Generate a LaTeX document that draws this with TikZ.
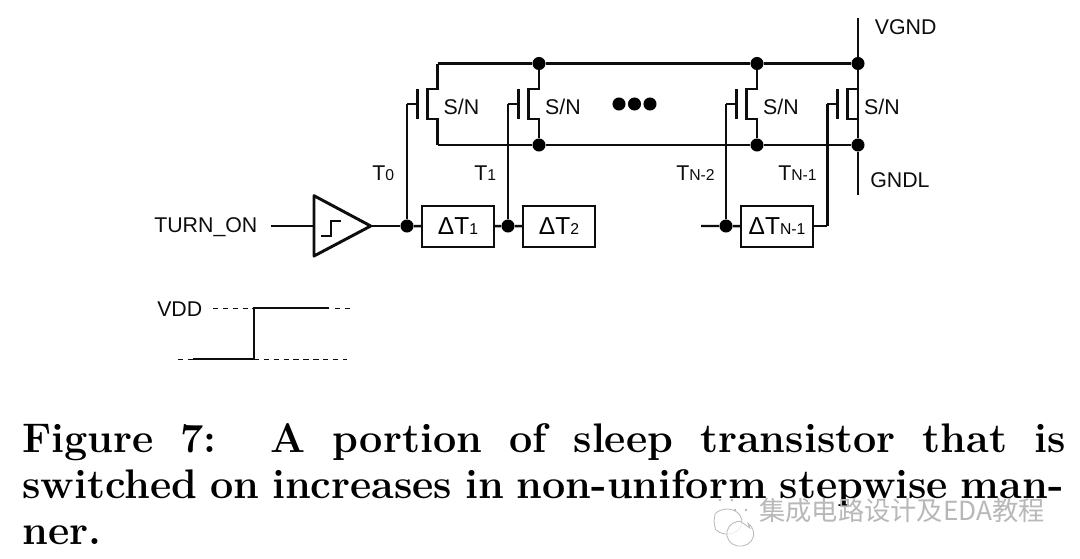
\documentclass[tikz,border=0pt]{standalone}
\usepackage{fontspec}
\setsansfont{Liberation Sans}
\newfontfamily\cjk{Noto Sans CJK SC}
\definecolor{ink}{gray}{0.05}
\definecolor{wm}{gray}{0.72}
\tikzset{
  wire/.style={draw=ink,line width=2.2pt,line join=miter},
  thin wire/.style={draw=ink,line width=1.8pt},
  hash/.style={draw=ink,line width=0.7pt,dash pattern=on 4pt off 3.4pt},
  dot/.style={circle,fill=black,draw=none,inner sep=0pt,minimum size=9.8pt},
  delaybox/.style={draw=ink,line width=1.8pt,fill=white,minimum height=30.75pt,anchor=center,inner sep=0pt},
  lab/.style={font=\sffamily\fontsize{16pt}{18pt}\selectfont,text=ink,inner sep=0pt},
  dlab/.style={font=\sffamily\fontsize{18.4pt}{20pt}\selectfont},
  captext/.style={font=\bfseries\fontsize{31pt}{32pt}\selectfont,text=black,inner sep=0pt,anchor=base west}
}
\newcommand{\smallsub}[1]{{\fontsize{11.8pt}{12pt}\selectfont #1}}
\begin{document}
\begin{tikzpicture}[x=0.75pt,y=-0.75pt]
\useasboundingbox (0,0) rectangle (1080,558);
\fill[white] (0,0) rectangle (1080,558);
% rails
\coordinate (r0t) at (437.5,63.5); \coordinate (r0b) at (437.5,145);
\node[dot] (n1t) at (539,63.5) {}; \node[dot] (n1b) at (539,145) {};
\node[dot] (n2t) at (757,63.5) {}; \node[dot] (n2b) at (757,145) {};
\node[dot] (n3t) at (858,63.5) {}; \node[dot] (n3b) at (858,145) {};
\coordinate (vgnd) at (858,18); \coordinate (gndl) at (858,195);
\draw[wire] (r0t) -- (n1t) -- (n2t) -- (n3t);
\draw[wire] (r0b) -- (n1b) -- (n2b) -- (n3b);
\draw[wire] (vgnd) -- (n3t) -- (n3b) -- (gndl);
% delay chain
\node[dot] (j0) at (407,226) {};
\node[dot] (j1) at (508,226) {};
\node[dot] (j2) at (726,226) {};
\node[delaybox,minimum width=54pt,dlab] (d1) at (458,226.5) {ΔT\smallsub{1}};
\node[delaybox,minimum width=54pt,dlab] (d2) at (559,226.5) {ΔT\smallsub{2}};
\node[delaybox,minimum width=54pt,dlab] (d3) at (777,226.5) {ΔT\smallsub{N-1}};
\coordinate (free) at (701,226);
\coordinate (g3low) at (827.3,226);
\draw[thin wire] (j0) -- (d1); \draw[thin wire] (d1) -- (j1) -- (d2);
\draw[thin wire] (free) -- (j2) -- (d3); \draw[thin wire] (d3.east|-g3low) -- (g3low);
% transistors
\foreach \i/\gx/\sx/\rt/\rb in {0/407/437.5/r0t/r0b,1/508/539/n1t/n1b,2/726/757/n2t/n2b,3/827.3/858/n3t/n3b}{
  \coordinate (gw\i) at (\gx,104);
  \coordinate (pt\i) at (\gx+10.5,89); \coordinate (pb\i) at (\gx+10.5,119);
  \coordinate (ct\i) at (\gx+20.5,89); \coordinate (cb\i) at (\gx+20.5,119);
  \coordinate (st\i) at (\sx,89); \coordinate (sb\i) at (\sx,119);
  \draw[wire] (\rt) -- (st\i) -- (ct\i) -- (cb\i) -- (sb\i) -- (\rb);
  \draw[wire] (pt\i) -- (pb\i);
  \draw[wire] (pt\i|-gw\i) -- (gw\i);
  \node[lab] (sn\i) at (\sx+24,107) {S/N};
}
\draw[wire] (gw0) -- (j0);
\draw[wire] (gw1) -- (j1);
\draw[wire] (gw2) -- (j2);
\draw[wire] (gw3) -- (g3low);
% ellipsis dots
\node[dot] (e1) at (619,104) {}; \node[dot] (e2) at (634.5,104) {}; \node[dot] (e3) at (650,104) {};
% buffer
\coordinate (ta) at (314,195.7); \coordinate (tb) at (314,256); \coordinate (tc) at (370.7,226);
\coordinate (in) at (270.7,226);
\draw[wire,line join=round] (ta) -- (tb) -- (tc) -- cycle;
\draw[wire] (in) -- (in-|ta);
\draw[wire] (tc) -- (j0);
\draw[thin wire] (321,236) -- (331,236) -- (331,220.7) -- (341,220.7);
% labels
\node[lab,anchor=west] (vg) at (874.5,27.5) {VGND};
\node[lab,anchor=west] (gl) at (870,180) {GNDL};
\node[lab,anchor=base west] (to) at (154,232) {TURN\_ON};
\node[lab,anchor=west] (vdd) at (157,309) {VDD};
\node[lab,anchor=west] (t0) at (372,173) {T\smallsub{0}};
\node[lab,anchor=west] (t1) at (474,173) {T\smallsub{1}};
\node[lab,anchor=west] (t2) at (676,173) {T\smallsub{N-2}};
\node[lab,anchor=west] (t3) at (778,173) {T\smallsub{N-1}};
% waveform
\coordinate (w1) at (193,359); \coordinate (w2) at (254,359); \coordinate (w3) at (254,308); \coordinate (w4) at (329.3,308);
\draw[wire] (w1) -- (w2) -- (w3) -- (w4);
\draw[hash] (213,308) -- (w3);
\draw[hash] (335,308) -- (351,308);
\draw[hash] (178,359) -- (w1);
\draw[hash] (w2) -- (347,359);
% caption
\node[captext] (c1) at (22,452.5) {\makebox[782.5pt][s]{Figure 7:\ \ A portion of sleep transistor that is}};
\node[captext] (c2) at (22,498.5) {\makebox[781pt][s]{switched on increases in non-uniform stepwise man-}};
\node[captext] (c3) at (22,544.5) {ner.};
% watermark
\node[inner sep=0pt,anchor=west,text=wm] (wt) at (759,511) {\cjk\fontsize{19.7pt}{20pt}\selectfont 集成电路设计及EDA教程};
\draw[wm,line width=0.6pt,fill=white,fill opacity=0.6] (714,522) -- (715,514) arc[start angle=217,end angle=500,x radius=15,y radius=12.5] -- cycle;
\draw[wm,line width=0.6pt,fill=white,fill opacity=0.75] (750,528) -- (748,523.5) arc[start angle=-55,end angle=270,x radius=13.5,y radius=12.5] -- cycle;
\fill[wm] (720,500) circle (1.3) (732,500) circle (1.3) (735,510) circle (1.3) (746,510) circle (1.3);
\end{tikzpicture}
\end{document}
